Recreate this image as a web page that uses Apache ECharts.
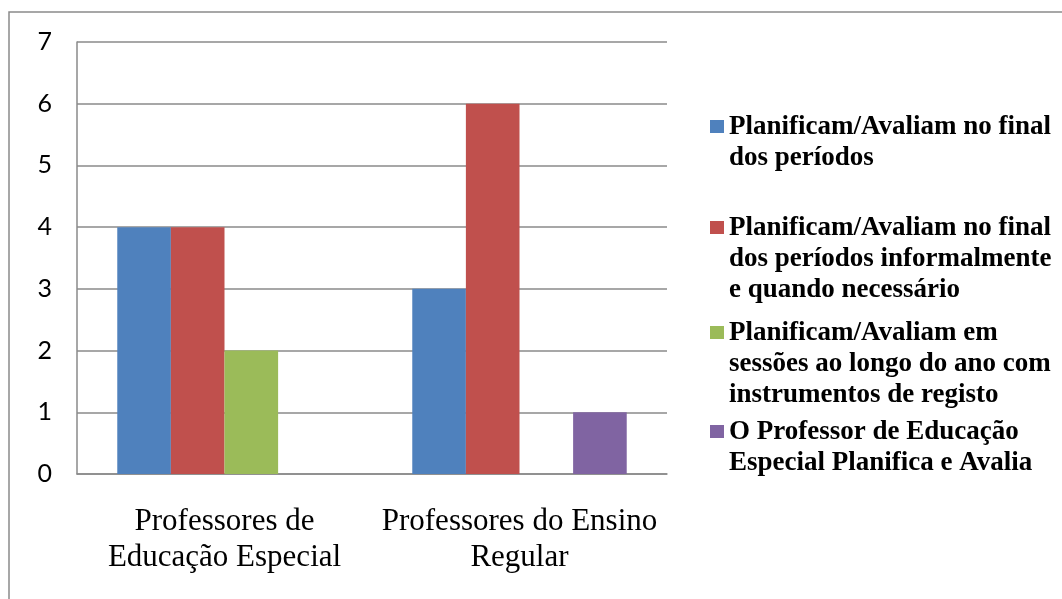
<!DOCTYPE html>
<html>
<head>
<meta charset="utf-8">
<script src="https://cdn.jsdelivr.net/npm/echarts@6/dist/echarts.min.js"></script>
<style>html,body{margin:0;padding:0;background:#fff;}#c{width:1062px;height:599px;}</style>
</head>
<body>
<div id="c"></div>
<script>
const categories = ['Professores de\nEducação Especial', 'Professores do Ensino\nRegular'];
const seriesNames = [
  'Planificam/Avaliam no final dos períodos',
  'Planificam/Avaliam no final dos períodos informalmente e quando necessário',
  'Planificam/Avaliam em sessões ao longo do ano com instrumentos de registo',
  'O Professor de Educação Especial Planifica e Avalia'
];
const legendLines = [
  ['Planificam/Avaliam no final', 'dos períodos'],
  ['Planificam/Avaliam no final', 'dos períodos informalmente', 'e quando necessário'],
  ['Planificam/Avaliam em', 'sessões ao longo do ano com', 'instrumentos de registo'],
  ['O Professor de Educação', 'Especial Planifica e Avalia']
];
const finalPeriodos = [4, 3];
const finalInformal = [4, 6];
const sessoesRegisto = [2, 0];
const professorEE = [0, 1];
const yTicks = [0, 1, 2, 3, 4, 5, 6, 7];

const colors = ['#4F81BD', '#C0504D', '#9BBB59', '#8064A2'];
const seriesValues = [finalPeriodos, finalInformal, sessoesRegisto, professorEE];
const LH = 31;
const legendTops = [112, 213, 318, 417];

const chart = echarts.init(document.getElementById('c'), null, {renderer: 'canvas'});

const legends = seriesNames.map((name, i) => {
  const n = legendLines[i].length;
  const h = n * LH;
  return {
    left: 710,
    top: legendTops[i],
    padding: 0,
    orient: 'vertical',
    selectedMode: false,
    itemWidth: 14,
    itemHeight: h,
    icon: 'path://M0,0L0,0M0,8L14,8L14,21L0,21ZM0,' + h + 'L0,' + h,
    data: [name],
    formatter: () => legendLines[i].join('\n'),
    textStyle: {
      fontFamily: '"Liberation Serif", "Times New Roman", serif',
      fontWeight: 'bold',
      fontSize: 27,
      lineHeight: LH,
      color: '#000'
    }
  };
});

const option = {
  backgroundColor: '#fff',
  animation: false,
  color: colors,
  graphic: [{
    type: 'rect',
    shape: {x: 9, y: 12, width: 1200, height: 800},
    style: {fill: 'none', stroke: '#8a8a8a', lineWidth: 1.5},
    silent: true
  }],
  grid: {left: 77, right: 395, top: 42, bottom: 125, containLabel: false},
  legend: legends,
  xAxis: {
    type: 'category',
    data: categories,
    axisTick: {show: false},
    axisLine: {lineStyle: {color: '#8a8a8a', width: 1.5}},
    axisLabel: {
      interval: 0,
      margin: 30,
      fontFamily: '"Liberation Serif", "Times New Roman", serif',
      fontSize: 31,
      lineHeight: 36,
      color: '#000'
    }
  },
  yAxis: {
    type: 'value',
    min: yTicks[0],
    max: yTicks[yTicks.length - 1],
    interval: 1,
    axisTick: {show: false},
    axisLine: {show: true, lineStyle: {color: '#8a8a8a', width: 1.5}},
    splitLine: {lineStyle: {color: '#8a8a8a', width: 1.5}},
    axisLabel: {
      margin: 25,
      fontFamily: 'Lato, "Open Sans", sans-serif',
      fontSize: 25,
      color: '#000'
    }
  },
  series: seriesNames.map((name, i) => ({
    name: name,
    type: 'bar',
    data: seriesValues[i],
    barGap: '0%',
    barCategoryGap: '27.3%',
    itemStyle: {color: colors[i]}
  }))
};
chart.setOption(option);
</script>
</body>
</html>
